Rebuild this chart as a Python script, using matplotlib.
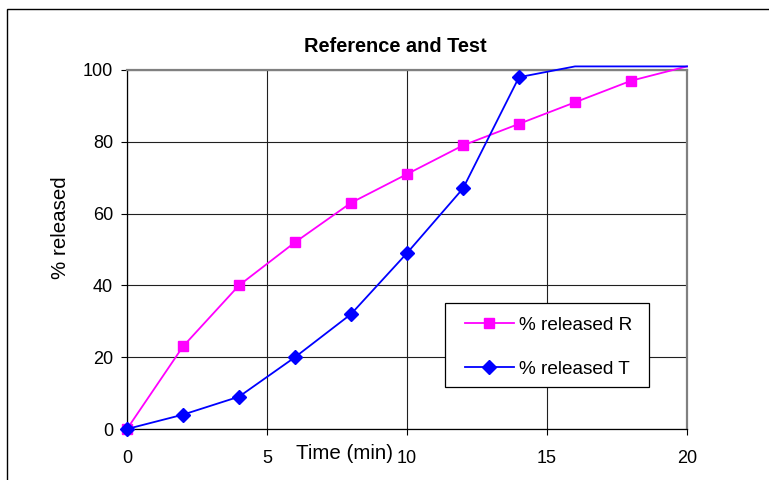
import numpy as np
import matplotlib
matplotlib.use("Agg")
import matplotlib.pyplot as plt
from matplotlib.patches import Rectangle

plt.rcParams['font.family'] = ['Liberation Sans', 'DejaVu Sans']

time_min = [0, 2, 4, 6, 8, 10, 12, 14, 16, 18, 20]
released_R = [0, 23, 40, 52, 63, 71, 79, 85, 91, 97, 101]
released_T = [0, 4, 9, 20, 32, 49, 67, 98, 101, 101, 101]
x_ticks = [0, 5, 10, 15, 20]
y_ticks = [0, 20, 40, 60, 80, 100]
title = "Reference and Test"
x_label = "Time (min)"
y_label = "% released"
label_R = "% released R"
label_T = "% released T"

fig = plt.figure(figsize=(7.69, 4.8), dpi=100)
ax = fig.add_axes([127/769, 1-429/480, 560/769, 359/480])

ymax = 100
tx = np.array(time_min); r = np.array(released_R); t = np.array(released_T)

ax.plot(tx, r, color='#FF00FF', lw=1.3, clip_on=False, zorder=3)
ax.plot(tx, t, color='#0000FF', lw=1.3, clip_on=False, zorder=4)
mr = r <= ymax
mt = t <= ymax
ax.plot(tx[mr], r[mr], ls='none', marker='s', ms=7.5, color='#FF00FF', clip_on=False, zorder=3)
ax.plot(tx[mt], t[mt], ls='none', marker='D', ms=7, color='#0000FF', clip_on=False, zorder=4)

hR, = ax.plot([], [], color='#FF00FF', lw=1.3, marker='s', ms=7.5, label=label_R)
hT, = ax.plot([], [], color='#0000FF', lw=1.3, marker='D', ms=7, label=label_T)

ax.set_xlim(0, 20)
ax.set_ylim(0, 100)
ax.set_xticks(x_ticks)
ax.set_yticks(y_ticks)
ax.grid(True, color='#202020', lw=0.8)
ax.set_axisbelow(True)
ax.tick_params(axis='x', direction='out', length=4, width=0.8, pad=11, labelsize=13)
ax.tick_params(axis='y', direction='out', length=4, width=0.8, pad=6, labelsize=13)

for s in ['left', 'bottom']:
    ax.spines[s].set_color('black')
    ax.spines[s].set_linewidth(0.9)
for s in ['right', 'top']:
    ax.spines[s].set_color('#808080')
    ax.spines[s].set_linewidth(1.6)

ax.set_title(title, fontsize=14.4, fontweight='bold', pad=13, x=0.48)
ax.set_xlabel(x_label, fontsize=14.8, va='top')
ax.xaxis.set_label_coords(0.389, -0.042)
ax.set_ylabel(y_label, fontsize=14.8)
ax.yaxis.set_label_coords(-0.102, 0.56)

# legend box drawn separately to match padding
box = Rectangle((0.5679, 0.117), 0.3643, 0.234, transform=ax.transAxes,
                facecolor='white', edgecolor='black', lw=0.9, zorder=4.5, clip_on=False)
ax.add_patch(box)
leg = ax.legend(handles=[hR, hT], loc='upper left', bbox_to_anchor=(0.6036, 0.314),
                borderaxespad=0, fontsize=13.7, labelspacing=1.42, handlelength=2.56,
                handletextpad=0.27, borderpad=0, frameon=False)
leg.set_zorder(5)

fig.add_artist(Rectangle((7/769, -0.2), 1.5, 1 - 9/480 + 0.2, transform=fig.transFigure,
                         fill=False, edgecolor='black', lw=1.0))

fig.savefig('out.png', dpi=100)
